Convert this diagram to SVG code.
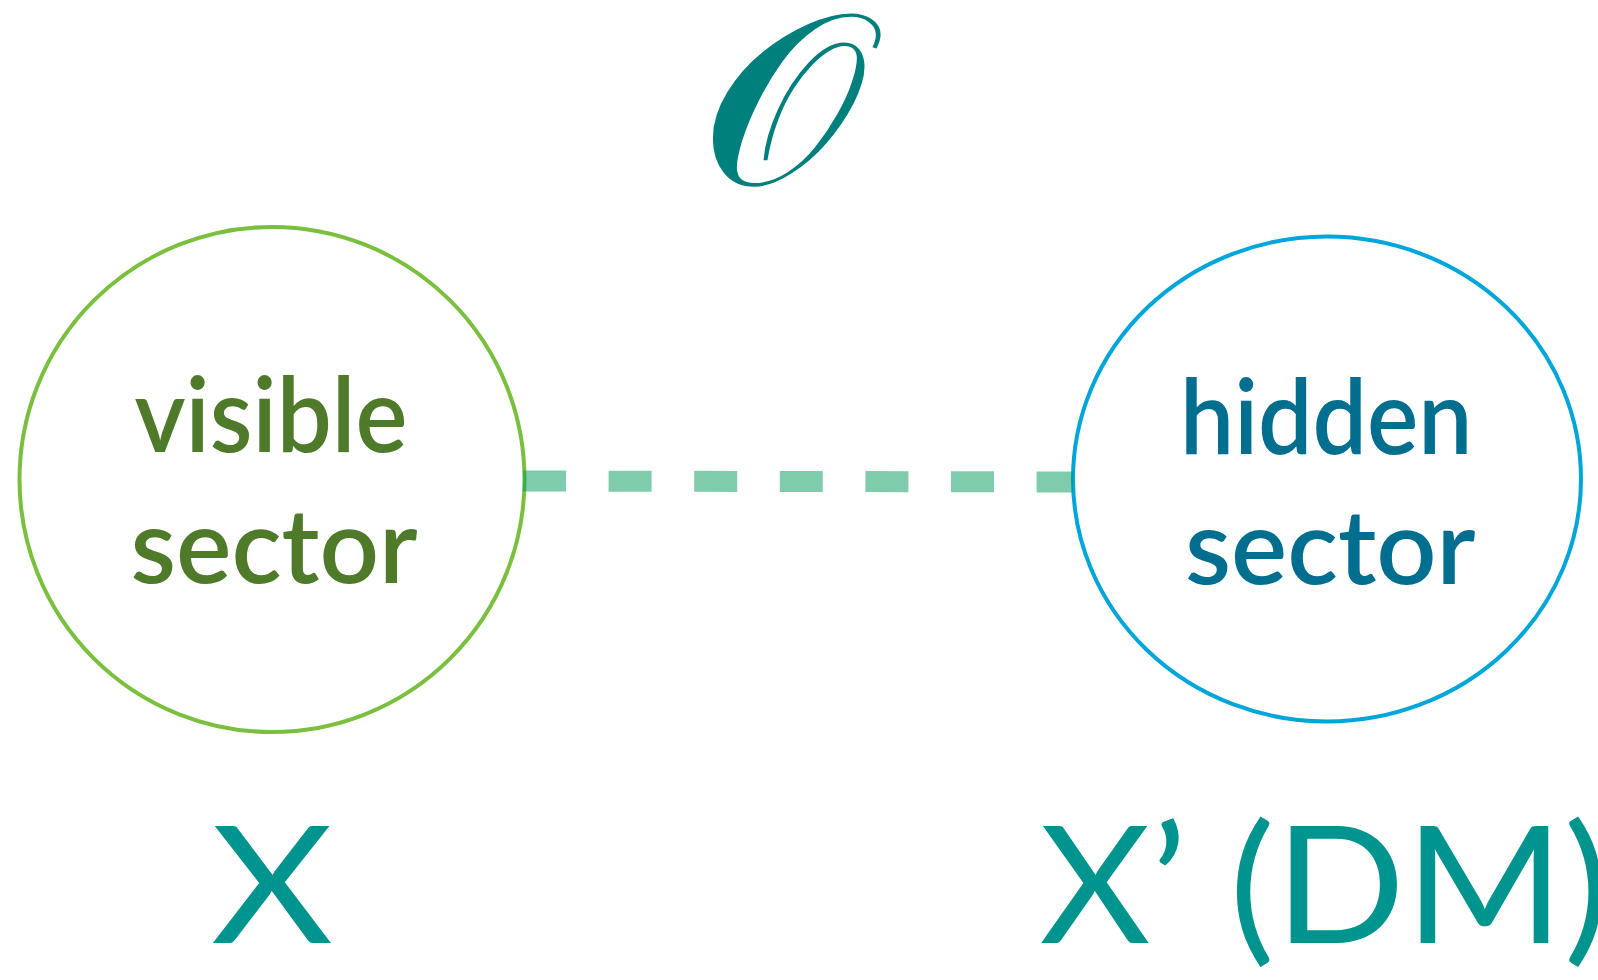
<svg xmlns="http://www.w3.org/2000/svg" width="1598" height="980" viewBox="0 0 1598 980">
  <style>
    .node { fill: #ffffff; stroke-width: 4; }
    .lbl { font-family: Lato, "Open Sans", "Liberation Sans", sans-serif; font-size: 104px; font-weight: 600; }
    .var { font-family: Lato, "Open Sans", "Liberation Sans", sans-serif; font-size: 163px; fill: #00948F; }
    .conn { stroke: #009A5A; stroke-opacity: 0.5; stroke-width: 21; stroke-dasharray: 43 42.6; fill: none; }
  </style>
  <rect x="0" y="0" width="1598" height="980" fill="#ffffff"/>
  <g id="operator">
    <text x="782" y="184" text-anchor="middle" font-family="DejaVu Serif, 'Liberation Serif', serif" font-size="242" fill="#00807D" transform="translate(782,0) scale(1.09,1) translate(-782,0)">𝒪</text>
  </g>
  <g id="visible">
    <circle class="node" cx="272" cy="479.5" r="252.5" stroke="#7BBF3F"/>
    <text class="lbl" fill="#4E7A2A" x="134.5" y="451.5" textLength="273" lengthAdjust="spacingAndGlyphs">visible</text>
    <text class="lbl" fill="#4E7A2A" x="130.5" y="583" textLength="287" lengthAdjust="spacingAndGlyphs">sector</text>
  </g>
  <g id="hidden">
    <ellipse class="node" cx="1327" cy="479" rx="254" ry="242.5" stroke="#00A6DA"/>
    <text class="lbl" fill="#006E8E" x="1180" y="453.5" textLength="292.5" lengthAdjust="spacingAndGlyphs">hidden</text>
    <text class="lbl" fill="#006E8E" x="1185" y="584" textLength="290.5" lengthAdjust="spacingAndGlyphs">sector</text>
  </g>
  <g id="connectors">
    <line class="conn" x1="523" y1="481" x2="1073" y2="482"/>
  </g>
  <g id="label-x">
    <text class="var" x="211" y="942.7" textLength="122" lengthAdjust="spacingAndGlyphs">X</text>
  </g>
  <g id="label-xprime">
    <text class="var" x="1039.5" y="942.7" textLength="570" lengthAdjust="spacingAndGlyphs">X’ (DM)</text>
  </g>
</svg>
